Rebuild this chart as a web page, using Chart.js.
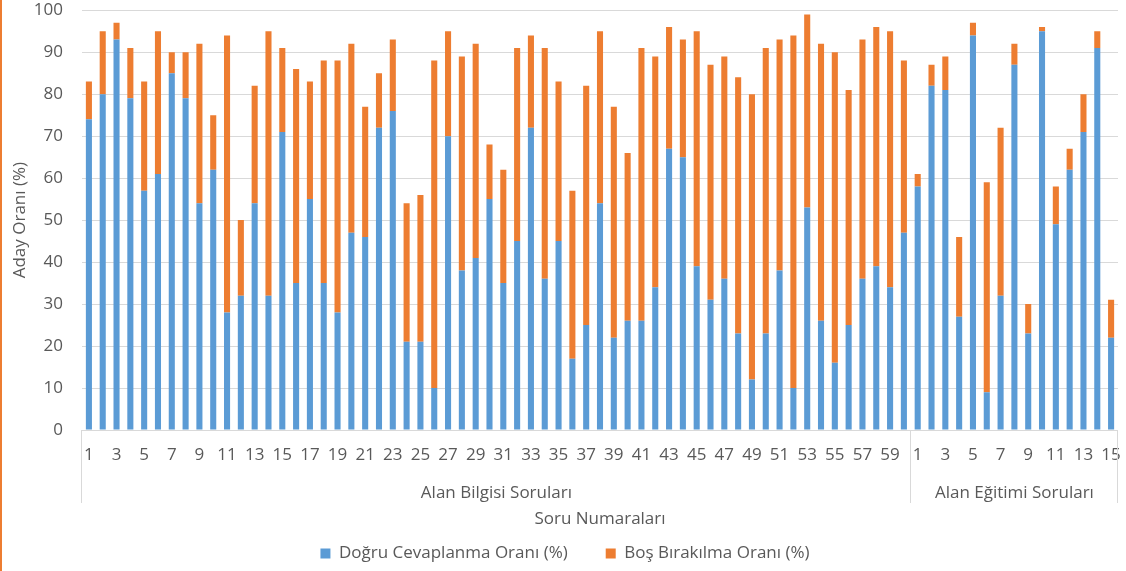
<!DOCTYPE html>
<html lang="tr">
<head>
<meta charset="utf-8">
<title>Aday Oranları</title>
<script src="https://cdn.jsdelivr.net/npm/chart.js@4.4.0/dist/chart.umd.min.js"></script>
<style>
  html, body { margin: 0; padding: 0; background: #fff; }
  #wrap { position: relative; width: 1126px; height: 571px; }
  #wrap::before { content: ''; position: absolute; left: 0; top: 0; width: 2px; height: 100%; background: #ED7D31; }
</style>
</head>
<body>
<div id="wrap"><canvas id="soruChart" width="1126" height="571"></canvas></div>
<script>
// soru numaralari (iki grup)
const bilgiLabels = ['1','2','3','4','5','6','7','8','9','10','11','12','13','14','15','16','17','18','19','20',
  '21','22','23','24','25','26','27','28','29','30','31','32','33','34','35','36','37','38','39','40',
  '41','42','43','44','45','46','47','48','49','50','51','52','53','54','55','56','57','58','59','60'];
const egitimLabels = ['1','2','3','4','5','6','7','8','9','10','11','12','13','14','15'];

const groupNames = ['Alan Bilgisi Soruları', 'Alan Eğitimi Soruları'];
const groupSizes = [60, 15];

// Doğru cevaplanma orani (%)
const dogruOrani = [74, 80, 93, 79, 57, 61, 85, 79, 54, 62, 28, 32, 54, 32, 71, 35, 55, 35, 28, 47,
  46, 72, 76, 21, 21, 10, 70, 38, 41, 55, 35, 45, 72, 36, 45, 17, 25, 54, 22, 26,
  26, 34, 67, 65, 39, 31, 36, 23, 12, 23, 38, 10, 53, 26, 16, 25, 36, 39, 34, 47,
  58, 82, 81, 27, 94, 9, 32, 87, 23, 95, 49, 62, 71, 91, 22];

// Boş bırakılma orani (%)
const bosOrani = [9, 15, 4, 12, 26, 34, 5, 11, 38, 13, 66, 18, 28, 63, 20, 51, 28, 53, 60, 45,
  31, 13, 17, 33, 35, 78, 25, 51, 51, 13, 27, 46, 22, 55, 38, 40, 57, 41, 55, 40,
  65, 55, 29, 28, 56, 56, 53, 61, 68, 68, 55, 84, 46, 66, 74, 56, 57, 57, 61, 41,
  3, 5, 8, 19, 3, 50, 40, 5, 7, 1, 9, 5, 9, 4, 9];

const yMin = 0, yMax = 100, yStep = 10;

const categories = bilgiLabels.concat(egitimLabels);
const textColor = '#595959';
const gridColor = '#d9d9d9';
const fontFamily = '"Open Sans", "Liberation Sans", sans-serif';

// grup etiketleri ve ayirici cizgiler
const groupPlugin = {
  id: 'soruGruplari',
  beforeUpdate(chart) {
    // legend kutusunun yuksekligini sabitle (genis yatay bosluk icin)
    const lg = chart.legend;
    if (lg && !lg._fitPatched) {
      const origFit = lg.fit;
      lg.fit = function() {
        origFit.call(this);
        this.height = 64;
        if (this.lineWidths && this.lineWidths.length) this.lineWidths[0] -= 12;
      };
      lg._fitPatched = true;
    }
  },
  afterDraw(chart) {
    const xScale = chart.scales.x;
    const ctx = chart.ctx;
    const base = chart.chartArea.bottom;
    const edges = [xScale.left];
    let count = 0;
    groupSizes.forEach(function(n) {
      count += n;
      if (count < categories.length) {
        edges.push((xScale.getPixelForTick(count - 1) + xScale.getPixelForTick(count)) / 2);
      } else {
        edges.push(xScale.right);
      }
    });
    ctx.save();
    ctx.strokeStyle = gridColor;
    ctx.lineWidth = 1;
    edges.forEach(function(px) {
      const xx = Math.round(px) - 0.5;
      ctx.beginPath();
      ctx.moveTo(xx, base);
      ctx.lineTo(xx, base + 73);
      ctx.stroke();
    });
    ctx.fillStyle = textColor;
    ctx.font = '17px ' + fontFamily;
    ctx.textAlign = 'center';
    ctx.textBaseline = 'middle';
    groupNames.forEach(function(name, i) {
      ctx.fillText(name, (edges[i] + edges[i + 1]) / 2, base + 63);
    });
    ctx.restore();
  }
};

document.addEventListener('DOMContentLoaded', function() {
  const ctx = document.getElementById('soruChart').getContext('2d');

  new Chart(ctx, {
    type: 'bar',
    data: {
      labels: categories,
      datasets: [
        {
          label: 'Doğru Cevaplanma Oranı (%)',
          data: dogruOrani,
          backgroundColor: '#5B9BD5',
          borderWidth: 0,
          barPercentage: 0.44,
          categoryPercentage: 1
        },
        {
          label: 'Boş Bırakılma Oranı (%)',
          data: bosOrani,
          backgroundColor: '#ED7D31',
          borderWidth: 0,
          barPercentage: 0.44,
          categoryPercentage: 1
        }
      ]
    },
    options: {
      responsive: false,
      animation: false,
      devicePixelRatio: 1,
      layout: { padding: { top: 0, right: 8, left: 0, bottom: 0 } },
      plugins: {
        tooltip: { enabled: false },
        legend: {
          position: 'bottom',
          labels: {
            boxWidth: 10,
            boxHeight: 10,
            padding: 38,
            color: textColor,
            font: { family: fontFamily, size: 17 }
          }
        }
      },
      scales: {
        x: {
          stacked: true,
          grid: { display: false, tickLength: 15 },
          border: { display: false },
          ticks: {
            autoSkip: false,
            maxRotation: 0,
            minRotation: 0,
            padding: 0,
            color: textColor,
            font: { family: fontFamily, size: 17 },
            callback: function(value) {
              const lbl = this.getLabelForValue(value);
              return Number(lbl) % 2 === 1 ? lbl : '';
            }
          },
          title: {
            display: true,
            text: 'Soru Numaraları',
            color: textColor,
            font: { family: fontFamily, size: 17 },
            padding: { top: 0, bottom: -22 }
          },
          afterFit: function(scale) { scale.height = 77; }
        },
        y: {
          stacked: true,
          min: yMin,
          max: yMax,
          grid: { color: gridColor, drawTicks: true, tickLength: 19, tickColor: 'rgba(0,0,0,0)' },
          border: { display: false },
          ticks: {
            stepSize: yStep,
            padding: 0,
            color: textColor,
            font: { family: fontFamily, size: 17 }
          },
          title: {
            display: true,
            text: 'Aday Oranı (%)',
            color: textColor,
            font: { family: fontFamily, size: 17 },
            padding: { top: 10, bottom: 0 }
          },
          afterFit: function(scale) { scale.width = 82; }
        }
      }
    },
    plugins: [groupPlugin]
  });
});
</script>
</body>
</html>
